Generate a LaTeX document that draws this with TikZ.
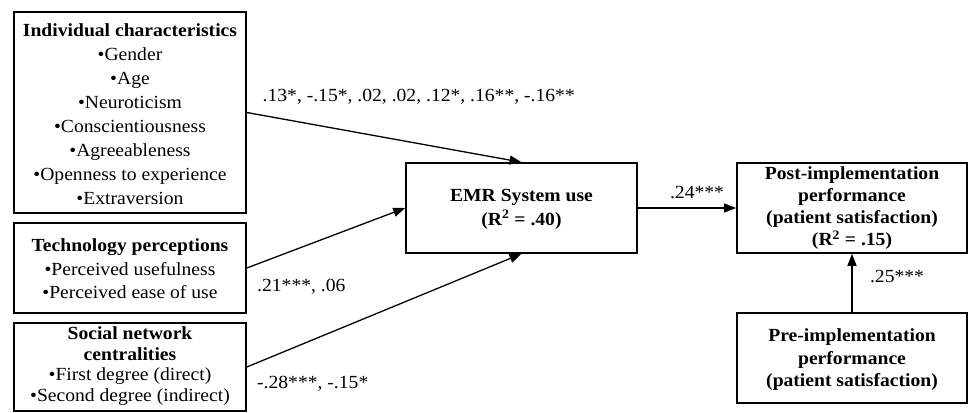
\documentclass[tikz,border=0pt]{standalone}
\usepackage{fontspec}
\setmainfont[FakeStretch=1.06]{Liberation Serif}
\usetikzlibrary{arrows.meta}
\begin{document}
\begin{tikzpicture}[x=1pt,y=-1pt,
  box/.style={draw, line width=1.6pt, inner sep=0pt},
  txt/.style={align=center, inner sep=0pt, font=\fontsize{18.5}{24}\selectfont},
  arr/.style={line width=1.3pt, -{Triangle[length=12pt,width=9pt]}},
  lab/.style={inner sep=0pt, font=\fontsize{18.5}{24}\selectfont}]
\useasboundingbox (0,0) rectangle (968,412);

% left boxes
\node[box, minimum width=232pt, minimum height=201pt] (ind) at (130,112.5) {};
\node[txt] (indt) at (130,114) {\textbf{Individual characteristics}\\•Gender\\•Age\\•Neuroticism\\•Conscientiousness\\•Agreeableness\\•Openness to experience\\•Extraversion};

\node[box, minimum width=232pt, minimum height=90pt] (tech) at (130,268) {};
\node[txt, font=\fontsize{18.5}{23.5}\selectfont] (techt) at (130,269) {\textbf{Technology perceptions}\\•Perceived usefulness\\•Perceived ease of use};

\node[box, minimum width=232pt, minimum height=88pt] (soc) at (130,367) {};
\node[txt, font=\fontsize{18.5}{20.7}\selectfont] (soct) at (130,366) {\textbf{Social network}\\\textbf{centralities}\\•First degree (direct)\\•Second degree (indirect)};

% EMR
\node[box, minimum width=231pt, minimum height=90pt] (emr) at (521.5,208) {};
\node[txt] (emrt) at (521.5,209) {\textbf{EMR System use}\\\textbf{(R\textsuperscript{2} = .40)}};

% right boxes
\node[box, minimum width=230pt, minimum height=90pt] (post) at (852,208) {};
\node[txt, font=\fontsize{18.5}{22.3}\selectfont\bfseries] (postt) at (852,208) {Post-implementation\\performance\\(patient satisfaction)\\(R\textsuperscript{2} = .15)};

\node[box, minimum width=230pt, minimum height=90pt] (pre) at (852,358) {};
\node[txt, font=\fontsize{18.5}{22.5}\selectfont\bfseries] (pret) at (852,360) {Pre-implementation\\performance\\(patient satisfaction)};

% arrows
\draw[arr] (ind.east) -- (emr.north);
\draw[arr] (tech.east) -- (emr.west);
\draw[arr] (soc.east) -- (emr.south);
\draw[arr] (emr.east) -- (post.west);
\draw[arr] (pre.north) -- (post.south);

% labels
\node[lab, anchor=east] (l1) at (575,97) {.13*, -.15*, .02, .02, .12*, .16**, -.16**};
\node[lab, anchor=west] (l2) at (257,287) {.21***, .06};
\node[lab, anchor=west] (l3) at (257,384) {-.28***, -.15*};
\node[lab] (l4) at (697,193) {.24***};
\node[lab] (l5) at (897,277) {.25***};
\end{tikzpicture}
\end{document}
